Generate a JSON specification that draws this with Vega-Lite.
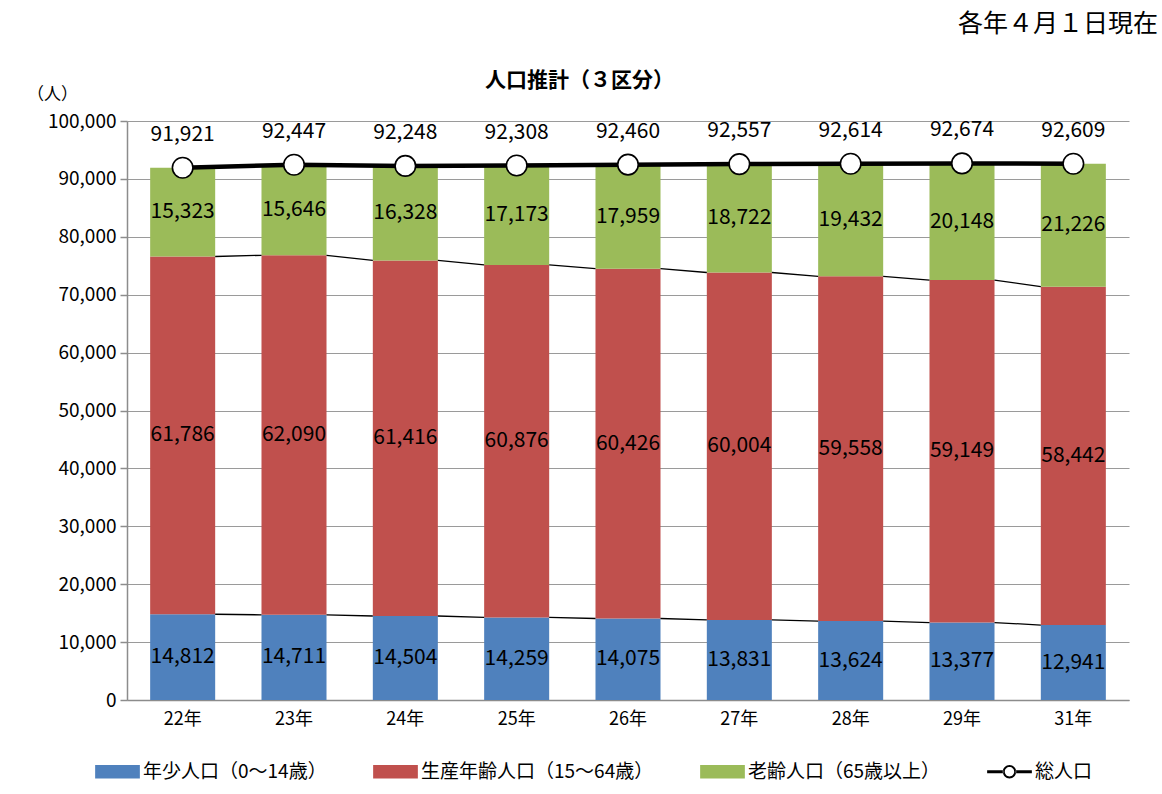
{
  "$schema": "https://vega.github.io/schema/vega-lite/v6.json",
  "width": 1002,
  "height": 579,
  "autosize": "none",
  "padding": {"left": 127, "top": 121, "right": 33, "bottom": 94},
  "background": "white",
  "title": {
    "text": "各年４月１日現在",
    "anchor": "end",
    "frame": "group",
    "dx": 29,
    "offset": 32,
    "fontSize": 25,
    "fontWeight": "normal",
    "color": "black"
  },
  "config": {
    "font": "Noto Sans CJK JP",
    "view": {"stroke": null}
  },
  "datasets": {
    "parts": [
      {"year": "22年", "group": "年少人口（0〜14歳）", "value": 14812},
      {"year": "23年", "group": "年少人口（0〜14歳）", "value": 14711},
      {"year": "24年", "group": "年少人口（0〜14歳）", "value": 14504},
      {"year": "25年", "group": "年少人口（0〜14歳）", "value": 14259},
      {"year": "26年", "group": "年少人口（0〜14歳）", "value": 14075},
      {"year": "27年", "group": "年少人口（0〜14歳）", "value": 13831},
      {"year": "28年", "group": "年少人口（0〜14歳）", "value": 13624},
      {"year": "29年", "group": "年少人口（0〜14歳）", "value": 13377},
      {"year": "31年", "group": "年少人口（0〜14歳）", "value": 12941},
      {"year": "22年", "group": "生産年齢人口（15〜64歳）", "value": 61786},
      {"year": "23年", "group": "生産年齢人口（15〜64歳）", "value": 62090},
      {"year": "24年", "group": "生産年齢人口（15〜64歳）", "value": 61416},
      {"year": "25年", "group": "生産年齢人口（15〜64歳）", "value": 60876},
      {"year": "26年", "group": "生産年齢人口（15〜64歳）", "value": 60426},
      {"year": "27年", "group": "生産年齢人口（15〜64歳）", "value": 60004},
      {"year": "28年", "group": "生産年齢人口（15〜64歳）", "value": 59558},
      {"year": "29年", "group": "生産年齢人口（15〜64歳）", "value": 59149},
      {"year": "31年", "group": "生産年齢人口（15〜64歳）", "value": 58442},
      {"year": "22年", "group": "老齢人口（65歳以上）", "value": 15323},
      {"year": "23年", "group": "老齢人口（65歳以上）", "value": 15646},
      {"year": "24年", "group": "老齢人口（65歳以上）", "value": 16328},
      {"year": "25年", "group": "老齢人口（65歳以上）", "value": 17173},
      {"year": "26年", "group": "老齢人口（65歳以上）", "value": 17959},
      {"year": "27年", "group": "老齢人口（65歳以上）", "value": 18722},
      {"year": "28年", "group": "老齢人口（65歳以上）", "value": 19432},
      {"year": "29年", "group": "老齢人口（65歳以上）", "value": 20148},
      {"year": "31年", "group": "老齢人口（65歳以上）", "value": 21226}
    ],
    "totals": [
      {"year": "22年", "total": 91921},
      {"year": "23年", "total": 92447},
      {"year": "24年", "total": 92248},
      {"year": "25年", "total": 92308},
      {"year": "26年", "total": 92460},
      {"year": "27年", "total": 92557},
      {"year": "28年", "total": 92614},
      {"year": "29年", "total": 92674},
      {"year": "31年", "total": 92609}
    ]
  },
  "encoding": {
    "x": {
      "field": "year",
      "type": "nominal",
      "scale": {"paddingInner": 0.416, "paddingOuter": 0.208},
      "axis": {
        "title": "人口推計（３区分）",
        "titleX": 452,
        "titleY": -614,
        "titleFontSize": 21,
        "titleFontWeight": "bold",
        "titleColor": "black",
        "titleBaseline": "alphabetic",
        "labelAngle": 0,
        "labelFontSize": 18,
        "labelColor": "black",
        "labelPadding": 10,
        "ticks": false,
        "domainColor": "#8c8c8c",
        "domainWidth": 1.5
      }
    }
  },
  "layer": [
    {
      "data": {"name": "parts"},
      "mark": {"type": "bar"},
      "encoding": {
        "y": {
          "field": "value",
          "type": "quantitative",
          "stack": "zero",
          "scale": {"domain": [0, 100000]},
          "axis": {
            "title": "（人）",
            "titleAngle": 0,
            "titleX": -75,
            "titleY": -22,
            "titleAlign": "center",
            "titleBaseline": "alphabetic",
            "titleFontSize": 17,
            "titleFontWeight": "normal",
            "titleColor": "black",
            "format": ",d",
            "values": [0, 10000, 20000, 30000, 40000, 50000, 60000, 70000, 80000, 90000, 100000],
            "labelFontSize": 19,
            "labelColor": "black",
            "labelPadding": 4,
            "tickSize": 7,
            "tickColor": "#8c8c8c",
            "tickWidth": 1.5,
            "domainColor": "#8c8c8c",
            "domainWidth": 1.5,
            "gridColor": "#9a9a9a",
            "gridWidth": 1.2
          }
        },
        "color": {
          "field": "group",
          "type": "nominal",
          "scale": {
            "domain": ["年少人口（0〜14歳）", "生産年齢人口（15〜64歳）", "老齢人口（65歳以上）", "総人口"],
            "range": ["#4F81BD", "#C0504D", "#9BBB59", "#000000"]
          },
          "legend": {
            "title": null,
            "orient": "none",
            "direction": "horizontal",
            "columns": 4,
            "legendX": -32,
            "legendY": 628,
            "labelFontSize": 19,
            "labelColor": "black",
            "labelLimit": 500,
            "labelOffset": 3,
            "columnPadding": 46,
            "symbolSize": 2000,
            "symbolStrokeWidth": 0,
            "encode": {
              "symbols": {
                "update": {
                  "shape": {"signal": "datum.value === '総人口' ? 'M-1,-0.07H-0.28V0.07H-1Z M0.28,-0.07H1V0.07H0.28Z M0.3,0A0.3,0.3 0 1 0 -0.3,0A0.3,0.3 0 1 0 0.3,0Z M0.21,0A0.21,0.21 0 1 1 -0.21,0A0.21,0.21 0 1 1 0.21,0Z' : 'M-1,-0.3H1V0.3H-1Z'"},
                  "fill": {"signal": "scale('color', datum.value)"},
                  "stroke": {"value": "transparent"},
                  "opacity": {"value": 1},
                  "fillOpacity": {"value": 1}
                }
              }
            }
          }
        },
        "order": {"field": "group", "sort": "ascending"}
      }
    },
    {
      "data": {"name": "parts"},
      "transform": [
        {"stack": "value", "groupby": ["year"], "sort": [{"field": "group", "order": "ascending"}], "as": ["y0", "y1"]},
        {"filter": "datum.group !== '老齢人口（65歳以上）'"},
        {"window": [{"op": "lead", "field": "y1", "as": "ny"}, {"op": "lead", "field": "year", "as": "nyear"}], "groupby": ["group"], "sort": [{"field": "year", "order": "ascending"}]},
        {"filter": "datum.nyear != null"}
      ],
      "mark": {"type": "rule", "color": "black", "strokeWidth": 1.3},
      "encoding": {
        "x": {"field": "year", "type": "nominal", "bandPosition": 1},
        "x2": {"field": "nyear", "bandPosition": 0},
        "y": {"field": "y1", "type": "quantitative"},
        "y2": {"field": "ny"}
      }
    },
    {
      "data": {"name": "parts"},
      "transform": [
        {"stack": "value", "groupby": ["year"], "sort": [{"field": "group", "order": "ascending"}], "as": ["y0", "y1"]},
        {"calculate": "(datum.y0 + datum.y1) / 2", "as": "mid"}
      ],
      "mark": {"type": "text", "fontSize": 21, "color": "black", "baseline": "middle"},
      "encoding": {
        "y": {"field": "mid", "type": "quantitative"},
        "text": {"field": "value", "type": "quantitative", "format": ",d"}
      }
    },
    {
      "data": {"name": "totals"},
      "mark": {"type": "line", "strokeWidth": 4.5},
      "encoding": {
        "y": {"field": "total", "type": "quantitative"},
        "color": {"datum": "総人口", "type": "nominal"}
      }
    },
    {
      "data": {"name": "totals"},
      "mark": {"type": "point", "shape": "circle", "filled": true, "fill": "white", "stroke": "black", "strokeWidth": 1.6, "size": 420, "opacity": 1},
      "encoding": {
        "y": {"field": "total", "type": "quantitative"}
      }
    },
    {
      "data": {"name": "totals"},
      "mark": {"type": "text", "fontSize": 21, "color": "black", "baseline": "middle", "dy": -33},
      "encoding": {
        "y": {"field": "total", "type": "quantitative"},
        "text": {"field": "total", "type": "quantitative", "format": ",d"}
      }
    }
  ]
}
